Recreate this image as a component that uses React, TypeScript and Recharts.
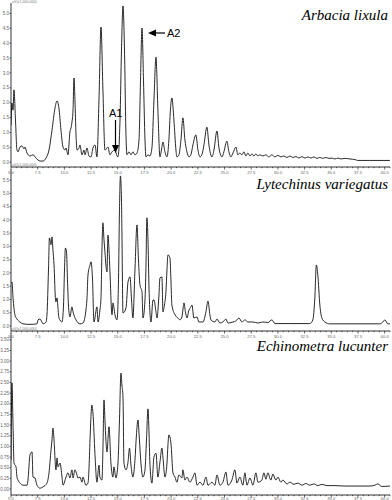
import { LineChart, Line, XAxis, YAxis } from 'recharts';

// retention time (min), signal (uV x 1,000,000)
const lixula: [number, number][] = [
  [5.0, 1.24], [5.09, 1.99], [5.19, 1.75], [5.28, 2.43], [5.42, 1.42], [5.56, 0.41], [5.66, 0.35], [5.84, 0.51],
  [6.03, 0.55], [6.22, 0.45], [6.31, 0.51], [6.5, 0.31], [6.78, 0.21], [7.06, 0.25], [7.34, 0.14], [7.72, 0.04],
  [8.0, 0.04], [8.28, 0.14], [8.56, 0.41], [8.84, 1.08], [9.12, 1.82], [9.31, 2.06], [9.49, 1.82], [9.68, 1.08],
  [9.87, 0.51], [10.06, 0.41], [10.15, 0.48], [10.34, 0.25], [10.52, 1.02], [10.62, 1.15], [10.71, 1.35], [10.81, 1.75],
  [10.9, 2.83], [10.99, 2.09], [11.09, 0.92], [11.18, 0.41], [11.37, 0.48], [11.46, 0.58], [11.65, 0.25], [11.84, 0.41],
  [11.93, 0.25], [12.12, 0.48], [12.3, 0.21], [12.49, 0.18], [12.68, 0.48], [12.87, 0.58], [13.05, 0.18], [13.24, 2.09],
  [13.43, 4.54], [13.61, 2.43], [13.8, 0.41], [13.99, 0.48], [14.08, 0.51], [14.27, 0.25], [14.46, 0.35], [14.74, 0.41],
  [14.93, 0.21], [15.02, 0.18], [15.21, 1.42], [15.35, 3.77], [15.49, 5.25], [15.63, 3.77], [15.77, 0.92], [15.86, 0.25],
  [16.05, 0.35], [16.24, 0.25], [16.42, 0.35], [16.61, 0.25], [16.8, 0.31], [16.99, 0.75], [17.13, 2.76], [17.27, 4.51],
  [17.41, 2.76], [17.55, 0.75], [17.64, 0.18], [17.83, 0.25], [18.01, 0.21], [18.2, 0.48], [18.39, 2.09], [18.58, 3.53],
  [18.76, 1.75], [18.95, 0.18], [19.09, 0.41], [19.23, 0.68], [19.42, 0.35], [19.61, 0.18], [19.79, 0.75], [19.93, 1.75],
  [20.07, 2.16], [20.26, 1.42], [20.45, 0.41], [20.54, 0.18], [20.73, 0.25], [20.92, 0.75], [21.1, 1.49], [21.29, 0.75],
  [21.48, 0.35], [21.67, 0.18], [21.85, 0.25], [22.04, 0.58], [22.32, 0.92], [22.51, 0.41], [22.7, 0.18], [22.88, 0.25],
  [23.07, 0.58], [23.35, 1.18], [23.54, 0.58], [23.82, 0.18], [24.01, 0.41], [24.29, 1.05], [24.48, 0.48], [24.76, 0.18],
  [24.94, 0.35], [25.22, 0.71], [25.41, 0.35], [25.6, 0.18], [25.79, 0.31], [26.07, 0.51], [26.25, 0.25], [26.44, 0.31],
  [26.63, 0.25], [26.82, 0.35], [27.0, 0.21], [27.19, 0.31], [27.38, 0.21], [27.57, 0.28], [27.75, 0.21], [27.94, 0.28],
  [28.13, 0.21], [28.31, 0.25], [28.6, 0.21], [28.88, 0.25], [29.16, 0.18], [29.44, 0.25], [29.72, 0.18], [30.0, 0.23],
  [30.28, 0.18], [30.56, 0.21], [30.84, 0.16], [31.12, 0.21], [31.4, 0.16], [31.69, 0.19], [31.97, 0.14], [32.25, 0.19],
  [32.53, 0.14], [32.81, 0.18], [33.09, 0.14], [33.37, 0.18], [33.65, 0.13], [33.93, 0.16], [34.21, 0.13], [34.49, 0.16],
  [34.78, 0.13], [35.06, 0.14], [35.34, 0.11], [35.62, 0.14], [35.9, 0.11], [36.27, 0.13], [36.74, 0.11], [37.21, 0.09],
  [37.49, 0.06], [38.61, 0.06], [40.49, 0.06],
];

const variegatus: [number, number][] = [
  [5.0, 1.62], [5.09, 1.66], [5.19, 1.06], [5.37, 0.42], [5.56, 0.26], [5.84, 0.15], [6.12, 0.08], [6.78, 0.06],
  [7.43, 0.08], [7.53, 0.23], [7.72, 0.26], [8.0, 0.08], [8.28, 0.15], [8.37, 0.42], [8.51, 2.11], [8.6, 3.32],
  [8.75, 3.06], [8.84, 3.36], [8.93, 2.87], [9.03, 2.3], [9.17, 0.98], [9.21, 0.91], [9.31, 1.06], [9.4, 0.68],
  [9.49, 0.3], [9.78, 0.15], [9.92, 0.79], [10.01, 2.11], [10.1, 2.94], [10.2, 2.79], [10.29, 1.74], [10.38, 0.79],
  [10.52, 0.34], [10.71, 0.72], [10.81, 0.53], [11.09, 0.23], [11.46, 0.08], [11.74, 0.11], [12.02, 0.6], [12.12, 1.06],
  [12.21, 1.92], [12.4, 2.3], [12.49, 2.42], [12.63, 1.81], [12.77, 0.15], [13.05, 0.72], [13.15, 0.15], [13.33, 0.6],
  [13.43, 1.06], [13.52, 2.87], [13.61, 3.89], [13.71, 3.25], [13.8, 2.79], [13.89, 2.3], [13.99, 2.04], [14.08, 3.43],
  [14.18, 2.87], [14.27, 2.04], [14.46, 0.42], [14.55, 0.87], [14.74, 0.42], [14.93, 0.23], [15.07, 1.74], [15.16, 4.38],
  [15.25, 5.66], [15.35, 4.75], [15.39, 3.55], [15.49, 0.49], [15.77, 0.68], [15.96, 1.66], [16.15, 1.85], [16.29, 0.98],
  [16.42, 0.3], [16.61, 2.11], [16.8, 3.81], [16.94, 2.49], [17.08, 1.55], [17.27, 1.28], [17.36, 0.3], [17.55, 0.98],
  [17.64, 2.19], [17.73, 4.08], [17.83, 3.25], [17.92, 1.55], [18.11, 0.15], [18.3, 0.98], [18.39, 0.98], [18.58, 0.53],
  [18.67, 0.3], [18.86, 1.17], [18.95, 1.81], [19.14, 1.85], [19.23, 0.53], [19.37, 0.79], [19.51, 1.28], [19.61, 2.11],
  [19.7, 2.68], [19.89, 2.57], [19.98, 1.74], [20.07, 0.79], [20.36, 0.42], [20.64, 0.3], [20.82, 0.23], [21.01, 0.34],
  [21.1, 0.6], [21.2, 0.87], [21.34, 0.53], [21.48, 0.3], [21.67, 0.6], [21.85, 0.72], [21.95, 0.79], [22.13, 0.3],
  [22.42, 0.34], [22.6, 0.15], [22.98, 0.15], [23.26, 0.53], [23.45, 0.94], [23.63, 0.42], [23.73, 0.23], [24.1, 0.15],
  [24.29, 0.26], [24.57, 0.11], [24.85, 0.15], [25.13, 0.26], [25.32, 0.11], [25.79, 0.15], [26.07, 0.19], [26.35, 0.3],
  [26.63, 0.15], [26.91, 0.23], [27.19, 0.15], [27.66, 0.15], [28.13, 0.11], [28.59, 0.15], [29.06, 0.13], [29.44, 0.23],
  [29.72, 0.09], [31.12, 0.09], [32.99, 0.09], [33.27, 0.23], [33.46, 1.06], [33.6, 2.3], [33.74, 1.92], [33.93, 0.79],
  [34.12, 0.3], [34.4, 0.15], [34.87, 0.08], [37.21, 0.08], [39.55, 0.08], [39.83, 0.15], [40.02, 0.23], [40.3, 0.08],
  [40.49, 0.08],
];

const lucunter: [number, number][] = [
  [5.0, 0.68], [5.09, 2.49], [5.19, 1.5], [5.28, 0.61], [5.47, 0.52], [5.56, 0.28], [5.66, 0.21], [5.84, 0.14],
  [6.12, 0.09], [6.5, 0.09], [6.59, 0.21], [6.78, 0.8], [6.97, 0.87], [7.06, 0.28], [7.25, 0.26], [7.43, 0.09],
  [7.72, 0.02], [8.0, 0.05], [8.37, 0.14], [8.56, 0.38], [8.75, 0.92], [8.84, 1.15], [8.93, 1.43], [9.03, 1.15],
  [9.21, 0.45], [9.31, 0.73], [9.4, 0.52], [9.59, 0.61], [9.78, 0.28], [9.87, 0.09], [10.15, 0.28], [10.34, 0.38],
  [10.52, 0.26], [10.71, 0.45], [10.81, 0.26], [10.99, 0.45], [11.18, 0.33], [11.27, 0.26], [11.46, 0.28], [11.65, 0.16],
  [11.74, 0.28], [12.02, 0.09], [12.21, 0.14], [12.3, 0.45], [12.4, 1.15], [12.58, 1.97], [12.68, 1.78], [12.86, 0.84],
  [13.05, 0.16], [13.24, 0.56], [13.33, 0.28], [13.52, 0.21], [13.61, 0.92], [13.71, 2.09], [13.8, 1.62], [13.89, 1.15],
  [13.99, 0.87], [14.18, 1.46], [14.36, 0.61], [14.55, 0.28], [14.64, 0.52], [14.83, 0.26], [15.02, 0.61], [15.16, 1.62],
  [15.3, 2.72], [15.39, 2.44], [15.49, 2.16], [15.58, 0.61], [15.77, 0.45], [15.96, 0.63], [16.1, 0.96], [16.24, 0.56],
  [16.42, 0.28], [16.61, 0.68], [16.75, 1.27], [16.89, 1.62], [17.03, 1.15], [17.17, 0.61], [17.36, 0.28], [17.55, 0.45],
  [17.69, 1.15], [17.83, 1.88], [17.92, 1.38], [18.01, 0.61], [18.2, 0.14], [18.39, 0.75], [18.58, 0.84], [18.76, 0.28],
  [18.95, 0.63], [19.14, 0.96], [19.23, 0.75], [19.42, 0.28], [19.61, 0.61], [19.7, 1.03], [19.79, 1.27], [19.98, 1.08],
  [20.17, 0.38], [20.36, 0.28], [20.54, 0.16], [20.73, 0.33], [21.01, 0.26], [21.1, 0.45], [21.29, 0.21], [21.48, 0.28],
  [21.76, 0.16], [22.04, 0.28], [22.23, 0.38], [22.42, 0.09], [22.7, 0.16], [22.98, 0.09], [23.26, 0.28], [23.45, 0.09],
  [23.82, 0.16], [24.1, 0.09], [24.29, 0.33], [24.57, 0.09], [24.85, 0.16], [25.13, 0.4], [25.32, 0.09], [25.69, 0.21],
  [25.97, 0.45], [26.16, 0.14], [26.44, 0.28], [26.72, 0.09], [26.91, 0.38], [27.1, 0.09], [27.38, 0.26], [27.66, 0.09],
  [27.94, 0.38], [28.13, 0.16], [28.5, 0.21], [28.69, 0.38], [28.88, 0.23], [29.06, 0.38], [29.34, 0.21], [29.53, 0.35],
  [29.81, 0.21], [30.0, 0.28], [30.28, 0.16], [30.47, 0.21], [30.84, 0.12], [31.12, 0.16], [31.5, 0.11], [31.87, 0.14],
  [32.25, 0.09], [32.62, 0.13], [32.99, 0.09], [33.37, 0.12], [33.74, 0.08], [34.12, 0.11], [34.59, 0.08], [35.34, 0.08],
  [36.27, 0.07], [37.68, 0.07], [38.61, 0.07], [39.08, 0.09], [39.36, 0.12], [39.74, 0.06], [40.49, 0.07],
];

const xLabels = [5, 7.5, 10, 12.5, 15, 17.5, 20, 22.5, 25, 27.5, 30, 32.5, 35, 37.5, 40];
const lixulaYTicks = [0, 0.5, 1, 1.5, 2, 2.5, 3, 3.5, 4, 4.5, 5];
const variegatusYTicks = [0, 0.5, 1, 1.5, 2, 2.5, 3, 3.5, 4, 4.5, 5, 5.5];
const lucunterYTicks = [0, 0.25, 0.5, 0.75, 1, 1.25, 1.5, 1.75, 2, 2.25, 2.5, 2.75, 3, 3.25, 3.5];

// minor ticks every 0.5 min
const xTicks = Array.from({ length: 72 }, (_, i) => 5 + i * 0.5);

const W = 392;
const UNIT = 'uV(x1,000,000)';

const makeXTick = (labelDy: number) => (props: any) => {
  const { x, y, payload } = props;
  const major = xLabels.includes(payload.value);
  return (
    <g>
      <line x1={x} x2={x} y1={y} y2={y + (major ? 2.5 : 1.2)} stroke="#000" strokeWidth={0.6} />
      {major && (
        <text x={x} y={y + labelDy} textAnchor="middle" fontSize={4.2} fill="#666" fontFamily="Liberation Sans">
          {payload.value.toFixed(1)}
        </text>
      )}
    </g>
  );
};

// the unit caption of panels 2 and 3 sits just above the axis line of the panel before
const panels = [
  { title: 'Arbacia lixula', data: lixula, top: 0, height: 177, mTop: 3, xH: 10, labelDy: 6.5, ownUnit: true, nextUnit: true, domain: [-0.16, 5.35], yTicks: lixulaYTicks, digits: 1, titleY: 20 },
  { title: 'Lytechinus variegatus', data: variegatus, top: 167, height: 174, mTop: 2, xH: 10, labelDy: 6.5, ownUnit: false, nextUnit: true, domain: [-0.19, 5.92], yTicks: variegatusYTicks, digits: 1, titleY: 22 },
  { title: 'Echinometra lucunter', data: lucunter, top: 331, height: 169, mTop: 2, xH: 5, labelDy: 4.6, ownUnit: false, nextUnit: false, domain: [-0.14, 3.66], yTicks: lucunterYTicks, digits: 2, titleY: 20 },
];

function Panel({ p, children }: { p: (typeof panels)[number]; children?: any }) {
  const rows = p.data.map(([t, v]) => ({ t, v }));
  const axisY = p.height - p.xH;
  return (
    <div style={{ position: 'absolute', left: 0, top: p.top }}>
      <LineChart width={W} height={p.height} data={rows} margin={{ top: p.mTop, right: 2, bottom: 0, left: 0 }}>
        <XAxis
          dataKey="t"
          type="number"
          domain={[5, 40.5]}
          ticks={xTicks}
          interval={0}
          tick={makeXTick(p.labelDy)}
          tickSize={0}
          tickMargin={0}
          height={p.xH}
          axisLine={{ stroke: '#000', strokeWidth: 0.8 }}
          allowDataOverflow
        />
        <YAxis
          type="number"
          domain={p.domain}
          ticks={p.yTicks}
          interval={0}
          width={11}
          tickSize={1.5}
          tickMargin={0.5}
          tick={{ fontSize: 4.5, fill: '#666', fontFamily: 'Liberation Sans' }}
          tickFormatter={(v: number) => v.toFixed(p.digits)}
          axisLine={{ stroke: '#000', strokeWidth: 0.8 }}
          tickLine={{ stroke: '#000', strokeWidth: 0.6 }}
          allowDataOverflow
        />
        <YAxis
          yAxisId="right"
          orientation="right"
          domain={[0, 1]}
          width={0}
          tick={false}
          tickLine={false}
          axisLine={{ stroke: '#000', strokeWidth: 0.8 }}
        />
        <Line
          dataKey="v"
          type="monotone"
          stroke="#111"
          strokeWidth={0.9}
          dot={false}
          isAnimationActive={false}
        />
        {p.ownUnit && (
          <text x={12} y={3} fontSize={3.6} fill="#777" fontFamily="Liberation Sans">{UNIT}</text>
        )}
        {p.nextUnit && (
          <text x={12} y={axisY - 1} fontSize={3.6} fill="#777" fontFamily="Liberation Sans">{UNIT}</text>
        )}
        <text
          x={388}
          y={p.titleY}
          textAnchor="end"
          fontSize={15}
          fontStyle="italic"
          fontFamily="Liberation Serif"
          fill="#000"
        >
          {p.title}
        </text>
        {children}
      </LineChart>
    </div>
  );
}

export default function App() {
  return (
    <div style={{ position: 'fixed', left: 0, top: 0, width: W, height: 500, background: '#fff', overflow: 'hidden' }}>
      <Panel p={panels[0]}>
        <text x={109} y={117} fontSize={11} fontFamily="Liberation Sans" fill="#000">A1</text>
        <line x1={115.5} x2={115.5} y1={120} y2={146} stroke="#000" strokeWidth={1.2} />
        <polygon points="112,145 119,145 115.5,153" fill="#000" />
        <text x={167} y={37} fontSize={11} fontFamily="Liberation Sans" fill="#000">A2</text>
        <line x1={155} x2={165} y1={33} y2={33} stroke="#000" strokeWidth={1.2} />
        <polygon points="148,33 156,29.5 156,36.5" fill="#000" />
      </Panel>
      <Panel p={panels[1]} />
      <Panel p={panels[2]} />
    </div>
  );
}
